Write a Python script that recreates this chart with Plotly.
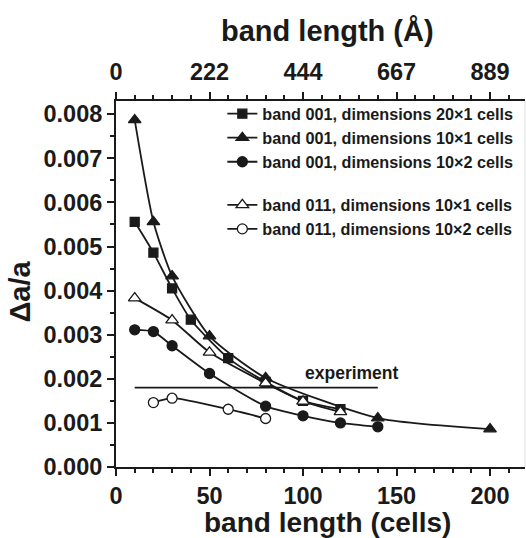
import plotly.graph_objects as go

# ---- data (band length in cells, delta a / a) ----
x_001_20x1 = [10, 20, 30, 40, 60, 80, 100, 120]
y_001_20x1 = [0.00556, 0.00486, 0.00405, 0.00334, 0.00247, 0.00193, 0.00150, 0.00131]

x_001_10x1 = [10, 20, 30, 50, 80, 140, 200]
y_001_10x1 = [0.00787, 0.00556, 0.00433, 0.00297, 0.00202, 0.00111, 0.00086]

x_001_10x2 = [10, 20, 30, 50, 80, 100, 120, 140]
y_001_10x2 = [0.00311, 0.00307, 0.00275, 0.00212, 0.00138, 0.00116, 0.00100, 0.00091]

x_011_10x1 = [10, 30, 50, 80, 100, 120]
y_011_10x1 = [0.00383, 0.00333, 0.00260, 0.00190, 0.00149, 0.00125]

x_011_10x2 = [20, 30, 60, 80]
y_011_10x2 = [0.00146, 0.00156, 0.00131, 0.00110]

exp_x = [10, 140]
exp_y = [0.0018, 0.0018]
exp_label = "experiment"

bottom_tickvals = [0, 50, 100, 150, 200]
top_ticktext = ["0", "222", "444", "667", "889"]
y_tickvals = [0.000, 0.001, 0.002, 0.003, 0.004, 0.005, 0.006, 0.007, 0.008]

names = [
    "band 001, dimensions 20×1 cells",
    "band 001, dimensions 10×1 cells",
    "band 001, dimensions 10×2 cells",
    "band 011, dimensions 10×1 cells",
    "band 011, dimensions 10×2 cells",
]
x_title = "band length (cells)"
x2_title = "band length (Å)"
y_title = "Δa/a"

FONT = "Liberation Sans, Arial, Helvetica, sans-serif"
BLACK = "#1a1a1a"

fig = go.Figure()

series = [
    (x_001_20x1, y_001_20x1, "square", 9, "a"),
    (x_001_10x1, y_001_10x1, "triangle-up", 11, "a"),
    (x_001_10x2, y_001_10x2, "circle", 10, "a"),
    (x_011_10x1, y_011_10x1, "triangle-up-open", 11, "b"),
    (x_011_10x2, y_011_10x2, "circle-open", 10, "b"),
]
for (xs, ys, sym, sz, grp), nm in zip(series, names):
    if "open" in sym:
        marker = dict(symbol=sym.replace("-open", ""), size=sz, color="white",
                      line=dict(color=BLACK, width=1.3))
    else:
        marker = dict(symbol=sym, size=sz, color=BLACK, line=dict(color=BLACK, width=1.3))
    fig.add_trace(go.Scatter(
        x=xs, y=ys, mode="lines+markers", name=nm, legendgroup=grp,
        line=dict(color=BLACK, width=1.8, shape="spline", smoothing=0.6),
        marker=marker,
    ))

fig.add_trace(go.Scatter(
    x=exp_x, y=exp_y, mode="lines", showlegend=False,
    line=dict(color=BLACK, width=1.8), hoverinfo="skip",
))

# invisible trace to anchor the top axis
fig.add_trace(go.Scatter(
    x=[0], y=[0], xaxis="x2", mode="markers", showlegend=False,
    marker=dict(opacity=0), hoverinfo="skip",
))

fig.add_annotation(
    x=126, y=0.00213, text=exp_label, showarrow=False,
    font=dict(family=FONT, size=17.5, color=BLACK, weight="bold"),
)

title_font = dict(family=FONT, size=29, color=BLACK, weight="bold")
# axis titles placed as annotations in paper coordinates
fig.add_annotation(x=0.517, y=-0.1525, xref="paper", yref="paper", text=x_title,
                   showarrow=False, xanchor="center", yanchor="middle",
                   font=dict(family=FONT, size=28, color=BLACK, weight="bold"))
fig.add_annotation(x=0.517, y=1.1915, xref="paper", yref="paper", text=x2_title,
                   showarrow=False, xanchor="center", yanchor="middle", font=title_font)
fig.add_annotation(x=-0.237, y=0.4795, xref="paper", yref="paper", text=y_title,
                   showarrow=False, xanchor="center", yanchor="middle", textangle=-90,
                   font=title_font)

xr = [0, 218.7]
axis_common = dict(
    showline=True, linecolor=BLACK, linewidth=2,
    ticks="outside", ticklen=7, tickwidth=2, tickcolor=BLACK,
    showgrid=False, zeroline=False,
    tickfont=dict(family=FONT, size=23.5, color=BLACK, weight="bold"),
)

fig.update_layout(
    width=526, height=538,
    margin=dict(l=116, r=1, t=101, b=71),
    paper_bgcolor="white", plot_bgcolor="white",
    showlegend=True,
    legend=dict(
        x=0.26, y=1.012, xanchor="left", yanchor="top",
        traceorder="grouped", tracegroupgap=19,
        font=dict(family=FONT, size=16.2, color=BLACK, weight="bold"),
        bgcolor="rgba(0,0,0,0)",
    ),
    xaxis=dict(
        **axis_common, range=xr, tickvals=bottom_tickvals,
        minor=dict(dtick=10, ticks="outside", ticklen=4, tickwidth=2, tickcolor=BLACK),
    ),
    xaxis2=dict(
        **axis_common, range=xr, overlaying="x", side="top", anchor="y",
        tickvals=bottom_tickvals, ticktext=top_ticktext, ticklabelstandoff=3,
        minor=dict(dtick=10, ticks="outside", ticklen=4, tickwidth=2, tickcolor=BLACK),
    ),
    yaxis=dict(
        **axis_common, range=[0, 0.0083], tickvals=y_tickvals, tickformat=".3f",
        minor=dict(dtick=0.0005, ticks="outside", ticklen=4, tickwidth=2, tickcolor=BLACK),
    ),
)

fig.add_shape(type="line", xref="paper", yref="paper", x0=1, x1=1, y0=0, y1=1,
              line=dict(color="#dddddd", width=1))

fig.write_html("out.html")
